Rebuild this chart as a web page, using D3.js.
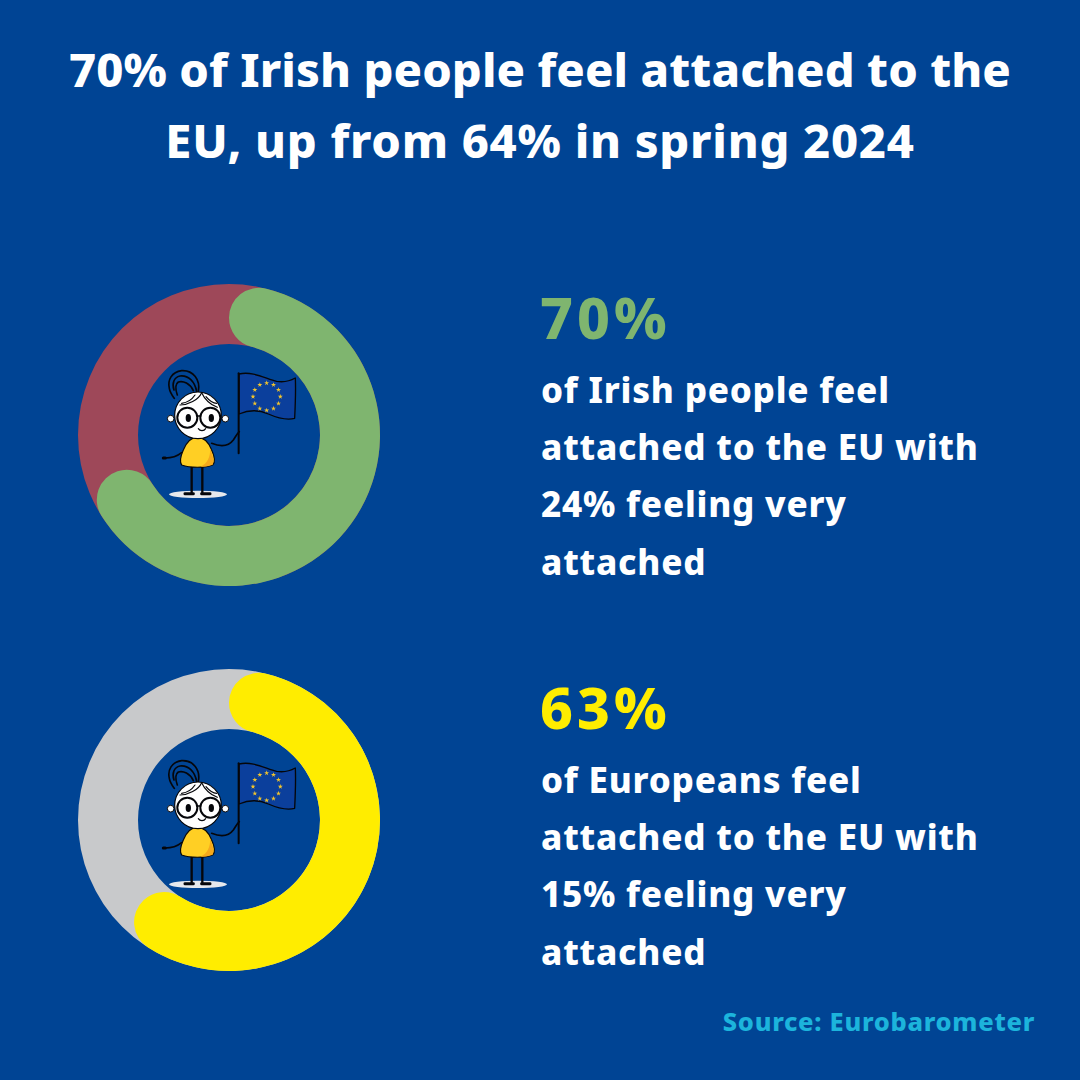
<!DOCTYPE html>
<html><head><meta charset="utf-8">
<script src="https://cdn.jsdelivr.net/npm/d3@7"></script>
<style>html,body{margin:0;padding:0;background:#004494}svg{display:block}
text{font-family:"Noto Sans",sans-serif;font-weight:800}</style></head>
<body><svg id="c" width="1080" height="1080"></svg>
<script>
const titleLines = ["70% of Irish people feel attached to the", "EU, up from 64% in spring 2024"];
const shares = [70, 63];
const shareLabels = ["70%", "63%"];
const descriptions = [
  ["of Irish people feel", "attached to the EU with", "24% feeling very", "attached"],
  ["of Europeans feel", "attached to the EU with", "15% feeling very", "attached"]
];
const mainColours = ["#7fb56f", "#ffed00"];
const restColours = ["#9e4859", "#c8c9cb"];
const sourceText = "Source: Eurobarometer";

const svg = d3.select("#c");
svg.append("rect").attr("width",1080).attr("height",1080).attr("fill","#004494");

const titleSpacing = [0.1, 0.75];
svg.selectAll(".title").data(titleLines).join("text").attr("class","title")
  .attr("x",540).attr("y",(d,i)=>87+i*71).attr("text-anchor","middle")
  .attr("font-size",47).attr("letter-spacing",(d,i)=>titleSpacing[i]).attr("fill","#fff").text(d=>d);

const angle = d3.scaleLinear().domain([0,100]).range([0,2*Math.PI]);
const arc = d3.arc().innerRadius(91).outerRadius(151);

const defs = svg.append("defs");
const fig = defs.append("g").attr("id","figure");
fig.append("ellipse").attr("cx",204).attr("cy",433).attr("rx",87).attr("ry",11).attr("fill","#e6e8ec");
const ink = {fill:"none",stroke:"#05060a","stroke-width":5,"stroke-linecap":"round","stroke-linejoin":"round"};
const stroke=(d,w)=>{const p=fig.append("path").attr("d",d);Object.entries(ink).forEach(([k,v])=>p.attr(k,v));if(w)p.attr("stroke-width",w);return p;};
// flag
fig.append("path").attr("d","M327 72C370 62 410 88 440 94C465 98 482 92 496 84C498 125 496 165 494 205C470 212 445 205 415 192C385 178 355 180 327 192Z")
  .attr("fill","#0b3f9c").attr("stroke","#05060a").attr("stroke-width",4).attr("stroke-linejoin","round");
stroke("M326 70L326 310",6);
const ringCx=410, ringCy=140, ringR=41;
const star=d3.symbol().type(d3.symbolStar).size(70);
fig.selectAll(".star").data(d3.range(12)).join("path").attr("class","star").attr("d",star)
  .attr("fill","#f2c42d").attr("transform",k=>{const a=k/12*2*Math.PI;return `translate(${ringCx+ringR*Math.cos(a)},${ringCy+ringR*Math.sin(a)})`;});
// hair
stroke("M205 125C212 90 190 60 155 62C125 66 112 90 118 115C120 128 128 138 133 145",5);
stroke("M200 125C195 95 175 75 150 78C132 82 125 100 132 120",5);
stroke("M190 122C180 100 160 92 145 96C136 102 136 118 142 135",5);
// legs
stroke("M185 345L185 428",7); stroke("M217 345L217 428",7);
stroke("M165 431L190 431",9); stroke("M215 431L240 431",9);
// arms
stroke("M155 308C140 320 120 325 100 324",5); stroke("M100 324L106 324",9);
stroke("M245 280C270 290 295 290 310 270C318 258 322 250 328 245",5);
// dress
fig.append("path").attr("d","M202 262C180 262 168 280 160 300C152 318 148 335 155 345C180 354 225 354 248 345C258 335 252 315 244 298C236 278 224 262 202 262Z").attr("fill","#ffcf24").attr("stroke","#05060a").attr("stroke-width",3.5);
fig.append("path").attr("d","M240 296C248 315 254 332 248 344C235 349 222 350 212 350C232 340 242 320 240 296Z").attr("fill","#f5a91c");
// ears and head
[[122,206],[286,206]].forEach(([x,y])=>fig.append("circle").attr("cx",x).attr("cy",y).attr("r",10).attr("fill","#fff").attr("stroke","#05060a").attr("stroke-width",3));
fig.append("circle").attr("cx",204).attr("cy",196).attr("r",70).attr("fill","#fff").attr("stroke","#05060a").attr("stroke-width",3.5);
stroke("M150 165C175 165 205 150 215 128",3.5); stroke("M215 128C225 150 245 165 262 172",3.5); stroke("M195 135C185 150 170 158 155 160",3.5);
stroke("M228 140C238 152 250 160 260 160",3.5);
// glasses
[[172,203],[241,203]].forEach(([x,y])=>{
  fig.append("circle").attr("cx",x).attr("cy",y).attr("r",30).attr("fill","#fff").attr("stroke","#05060a").attr("stroke-width",6);
  fig.append("ellipse").attr("cx",x+3).attr("cy",y+1).attr("rx",8).attr("ry",12).attr("fill","#05060a");
});
stroke("M202 198L211 198",5);
stroke("M205 236C210 244 222 244 227 236",3.5);

const rows = [435, 820];
const figureNudges = [0, 5];
const textTops = [339, 729];
shares.forEach((v,i)=>{
  const g = svg.append("g").attr("transform",`translate(229,${rows[i]})`);
  g.append("path").attr("d",arc({startAngle:0,endAngle:2*Math.PI})).attr("fill",restColours[i]);
  g.append("path").attr("d",arc.cornerRadius(30)({startAngle:angle(0),endAngle:angle(v)})).attr("fill",mainColours[i]);
  arc.cornerRadius(0);
  g.append("use").attr("href","#figure").attr("transform",`translate(-99,${-85+figureNudges[i]}) scale(0.3333)`);
  svg.append("text").attr("x",540).attr("y",textTops[i]).attr("font-size",57).attr("letter-spacing",4).attr("font-weight",900).attr("fill",mainColours[i]).text(shareLabels[i]);
  svg.selectAll(".d"+i).data(descriptions[i]).join("text").attr("class","d"+i)
    .attr("x",541).attr("y",(d,k)=>textTops[i]+64+k*57.2)
    .attr("font-size",35).attr("letter-spacing",0.8).attr("fill","#fff").text(d=>d);
});
svg.append("text").attr("x",1035).attr("y",1031).attr("text-anchor","end").attr("font-size",25.5).attr("letter-spacing",0.7).attr("fill","#1cb4dc").text(sourceText);
</script></body></html>
